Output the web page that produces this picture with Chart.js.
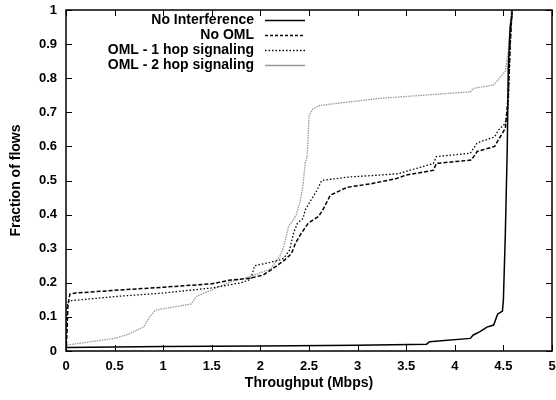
<!DOCTYPE html>
<html>
<head>
<meta charset="utf-8">
<script src="https://cdn.jsdelivr.net/npm/chart.js@4"></script>
<style>
  body { margin: 0; background: #fff; }
  #wrap { width: 556px; height: 400px; }
</style>
</head>
<body>
<div id="wrap"><canvas id="cdf"></canvas></div>
<script>
// CDF of per-flow throughput
const labels = ['No Interference', 'No OML', 'OML - 1 hop signaling', 'OML - 2 hop signaling'];

const noInterfX = [0, 0.5, 1, 2, 3, 3.71, 3.74, 4.16, 4.19, 4.26, 4.33, 4.40, 4.44, 4.49, 4.50, 4.52, 4.54, 4.55, 4.57, 4.59];
const noInterfY = [0.01, 0.012, 0.013, 0.015, 0.017, 0.02, 0.027, 0.037, 0.047, 0.057, 0.07, 0.076, 0.108, 0.117, 0.15, 0.345, 0.6, 0.83, 0.95, 0.99];

const noOmlX = [0, 0.01, 0.02, 0.04, 0.1, 0.56, 1.0, 1.5, 1.69, 1.89, 2.03, 2.13, 2.25, 2.32, 2.36, 2.42, 2.49, 2.54, 2.6, 2.65, 2.72, 2.89, 3.13, 3.4, 3.5, 3.78, 3.81, 4.17, 4.23, 4.41, 4.45, 4.52, 4.55, 4.57, 4.59];
const noOmlY = [0, 0.05, 0.135, 0.167, 0.17, 0.179, 0.187, 0.197, 0.208, 0.213, 0.223, 0.242, 0.267, 0.286, 0.316, 0.345, 0.374, 0.384, 0.395, 0.418, 0.457, 0.48, 0.49, 0.506, 0.516, 0.53, 0.55, 0.56, 0.585, 0.6, 0.62, 0.653, 0.75, 0.9, 1.0];

const oneHopX = [0, 0.005, 0.01, 0.03, 0.56, 1.0, 1.5, 1.8, 1.9, 1.94, 2.1, 2.2, 2.24, 2.30, 2.34, 2.38, 2.44, 2.46, 2.51, 2.58, 2.63, 2.9, 3.23, 3.42, 3.78, 3.81, 4.16, 4.23, 4.41, 4.45, 4.52, 4.55, 4.57, 4.59];
const oneHopY = [0, 0.08, 0.13, 0.147, 0.161, 0.17, 0.185, 0.2, 0.21, 0.25, 0.26, 0.267, 0.272, 0.296, 0.345, 0.374, 0.389, 0.413, 0.438, 0.47, 0.5, 0.51, 0.516, 0.52, 0.55, 0.57, 0.58, 0.61, 0.628, 0.648, 0.668, 0.72, 0.9, 1.0];

const twoHopX = [0, 0.02, 0.5, 0.65, 0.8, 0.86, 0.92, 1.29, 1.34, 1.5, 1.69, 1.89, 2.1, 2.2, 2.24, 2.29, 2.34, 2.37, 2.41, 2.44, 2.46, 2.48, 2.49, 2.50, 2.54, 2.61, 2.9, 3.23, 4.16, 4.19, 4.40, 4.52, 4.55, 4.58];
const twoHopY = [0.01, 0.018, 0.037, 0.05, 0.071, 0.1, 0.12, 0.138, 0.16, 0.179, 0.203, 0.218, 0.24, 0.277, 0.306, 0.365, 0.385, 0.4, 0.44, 0.49, 0.55, 0.57, 0.62, 0.69, 0.71, 0.72, 0.73, 0.741, 0.76, 0.77, 0.78, 0.82, 0.88, 1.0];

const xTicks = [0, 0.5, 1, 1.5, 2, 2.5, 3, 3.5, 4, 4.5, 5];
const yTicks = [0, 0.1, 0.2, 0.3, 0.4, 0.5, 0.6, 0.7, 0.8, 0.9, 1];

const font = 'Liberation Sans, Arial, Helvetica, sans-serif';

const toPts = (xs, ys) => xs.map((x, i) => ({ x: x, y: ys[i] }));

// gnuplot style box with inward ticks on all four sides
const framePlugin = {
    id: 'frame',
    afterDraw(chart) {
        const { ctx, chartArea: a, scales } = chart;
        ctx.save();
        ctx.strokeStyle = '#000';
        ctx.lineWidth = 1;
        ctx.beginPath();
        xTicks.forEach(v => {
            const px = Math.round(scales.x.getPixelForValue(v)) + 0.5;
            ctx.moveTo(px, a.bottom); ctx.lineTo(px, a.bottom - 6);
            ctx.moveTo(px, a.top); ctx.lineTo(px, a.top + 6);
        });
        yTicks.forEach(v => {
            const py = Math.round(scales.y.getPixelForValue(v)) + 0.5;
            ctx.moveTo(a.left, py); ctx.lineTo(a.left + 6, py);
            ctx.moveTo(a.right, py); ctx.lineTo(a.right - 6, py);
        });
        ctx.stroke();
        ctx.lineWidth = 1.5;
        ctx.strokeRect(a.left, a.top, a.right - a.left, a.bottom - a.top);
        ctx.restore();
    }
};

// key in the top left, text right-aligned with the line sample after it
const keyPlugin = {
    id: 'key',
    afterDraw(chart) {
        const ctx = chart.ctx;
        ctx.save();
        ctx.font = 'bold 14px ' + font;
        ctx.textAlign = 'right';
        ctx.textBaseline = 'middle';
        chart.data.datasets.forEach((ds, i) => {
            const y = 20 + i * 15;
            ctx.fillStyle = '#000';
            ctx.fillText(ds.label, 254, y);
            ctx.strokeStyle = ds.borderColor;
            ctx.lineWidth = ds.borderWidth;
            ctx.setLineDash(ds.key || []);
            ctx.beginPath();
            ctx.moveTo(265, y + 0.5);
            ctx.lineTo(305, y + 0.5);
            ctx.stroke();
        });
        ctx.restore();
    }
};

const datasets = [
    { label: labels[0], data: toPts(noInterfX, noInterfY), borderColor: '#000', borderWidth: 1.5 },
    { label: labels[1], data: toPts(noOmlX, noOmlY), borderColor: '#000', borderWidth: 1.5, borderDash: [4, 2], key: [3, 2] },
    { label: labels[2], data: toPts(oneHopX, oneHopY), borderColor: '#000', borderWidth: 1.3, borderDash: [1.5, 2], key: [1.5, 2] },
    { label: labels[3], data: toPts(twoHopX, twoHopY), borderColor: '#999', borderWidth: 1.3, borderDash: [1.5, 1], key: [] }
].map(d => Object.assign({ showLine: true, pointRadius: 0, tension: 0, fill: false }, d));

const noPad = s => { s.paddingLeft = 0; s.paddingRight = 0; s.paddingTop = 0; s.paddingBottom = 0; };

new Chart(document.getElementById('cdf'), {
    type: 'scatter',
    data: { datasets },
    options: {
        animation: false,
        responsive: true,
        maintainAspectRatio: false,
        layout: { padding: { top: 10, right: 4, left: 0, bottom: 0 } },
        plugins: {
            legend: { display: false },
            tooltip: { enabled: false }
        },
        scales: {
            x: {
                type: 'linear',
                min: 0,
                max: 5,
                grid: { display: false, drawTicks: false },
                border: { display: false },
                afterBuildTicks: s => { s.ticks = xTicks.map(v => ({ value: v })); },
                afterFit: s => { s.height = 49; noPad(s); },
                ticks: {
                    color: '#000',
                    padding: 8,
                    maxRotation: 0,
                    font: { family: font, size: 13, weight: 'bold' },
                    callback: v => String(v)
                },
                title: {
                    display: true,
                    text: 'Throughput (Mbps)',
                    color: '#000',
                    padding: { top: 0, bottom: 8 },
                    font: { family: font, size: 14, weight: 'bold' }
                }
            },
            y: {
                type: 'linear',
                min: 0,
                max: 1,
                grid: { display: false, drawTicks: false },
                border: { display: false },
                afterBuildTicks: s => { s.ticks = yTicks.map(v => ({ value: v })); },
                afterFit: s => { s.width = 66; noPad(s); },
                ticks: {
                    color: '#000',
                    padding: 9,
                    font: { family: font, size: 13, weight: 'bold' },
                    callback: v => String(v)
                },
                title: {
                    display: true,
                    text: 'Fraction of flows',
                    color: '#000',
                    padding: { top: 8, bottom: 0 },
                    font: { family: font, size: 14, weight: 'bold' }
                }
            }
        }
    },
    plugins: [framePlugin, keyPlugin]
});
</script>
</body>
</html>
